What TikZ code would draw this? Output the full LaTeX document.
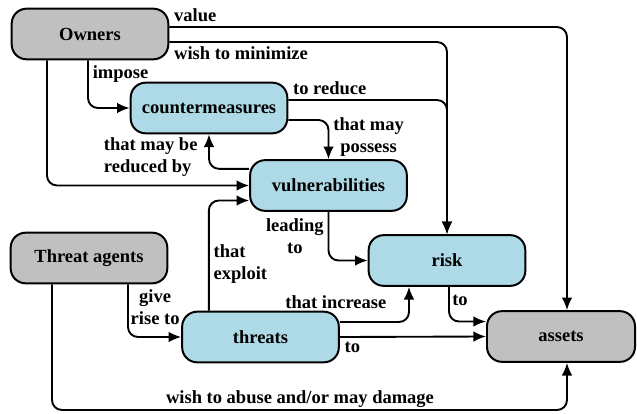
\documentclass[tikz,border=0pt]{standalone}
\usepackage{fontspec}
\setmainfont{Liberation Serif}
\usepackage{xcolor}
\usetikzlibrary{positioning,calc,arrows.meta}
\definecolor{boxgray}{RGB}{192,192,192}
\definecolor{boxblue}{RGB}{173,218,230}
\tikzset{>={Latex[length=3.8mm,width=3.2mm]}}

\begin{document}
\begin{tikzpicture}[x=0.03cm, y=-0.03cm,
		box/.style={draw, line width=1.7pt, rounded corners=0.45cm, minimum width=4.7cm, minimum height=1.52cm, font=\bfseries\fontsize{15.8}{19}\selectfont},
		grey/.style={box, fill=boxgray},
		blue/.style={box, fill=boxblue},
		link/.style={->, line width=1.6pt, rounded corners=0.3cm},
		lbl/.style={font=\bfseries\fontsize{15.8}{19}\selectfont}]
	\useasboundingbox (0,0) rectangle (637,413);
	
	% the boxes
	\node[grey] (owners) at (90,34) {Owners};
	\node[blue] (cm) at (209,108) {countermeasures};
	\node[blue] (vuln) at (328.5,185.5) {vulnerabilities};
	\node[blue] (risk) at (447,260.5) {risk};
	\node[grey] (agents) at (89,258) {Threat agents};
	\node[blue] (threats) at (260.5,337) {threats};
	\node[grey, minimum width=4.44cm] (assets) at (561,336.5) {assets};
	\coordinate (low) at (300,410);
	
	% owners
	\draw[link] ([yshift=0.21cm]owners.east) node[above right, lbl] {value} -| ([xshift=0.18cm]assets.north);
	\draw[link] ([yshift=-0.24cm]owners.east) node[below right, lbl] {wish to minimize} -| (risk.north);
	\draw[link] ([xshift=-0.06cm]owners.south) node[below right, lbl] {impose} |- (cm.west);
	\draw[link] ([xshift=-1.29cm]owners.south) |- (vuln.west);
	
	% countermeasures and vulnerabilities
	\draw[link] ([yshift=0.24cm]cm.east) node[above right, lbl] {to reduce} -| (risk.north);
	\draw[link] ([yshift=-0.36cm]cm.east) -| (vuln.north) node[pos=0.72, right, lbl, align=center] {that may\\possess};
	\draw[link] ([yshift=0.5cm]vuln.west) -| (cm.south) node[pos=0.67, left=0.2cm, lbl, align=left] {that may be\\reduced by};
	\draw[link] (vuln.south) |- (risk.west) node[pos=0.25, left, lbl, align=center] {leading\\to};
	
	% threats
	\draw[link] ([xshift=1.17cm]agents.south) |- (threats.west) node[pos=0.22, right, lbl, align=center, inner sep=1.5pt] {give\\rise to};
	\draw[link] ([xshift=-1.55cm]threats.north) |- ([yshift=-0.45cm]vuln.west) node[pos=0.21, right, lbl, align=left] {that\\exploit};
	\draw[link] ([yshift=0.45cm]threats.east) node[above, lbl, xshift=-0.12cm, yshift=0.25cm] {that increase} -| ([xshift=-1.14cm]risk.south);
	\draw[link] (threats.east) node[below right, lbl] {to} -- (assets.west);
	\draw[link] ([xshift=0.06cm]risk.south) |- ([yshift=0.45cm]assets.west) node[pos=0.2, right, lbl, inner sep=2pt] {to};
	\draw[link] ([xshift=-1.11cm]agents.south) |- (low) node[above, lbl, inner sep=1pt] {wish to abuse and/or may damage} -| ([xshift=0.18cm]assets.south);
\end{tikzpicture}
\end{document}
